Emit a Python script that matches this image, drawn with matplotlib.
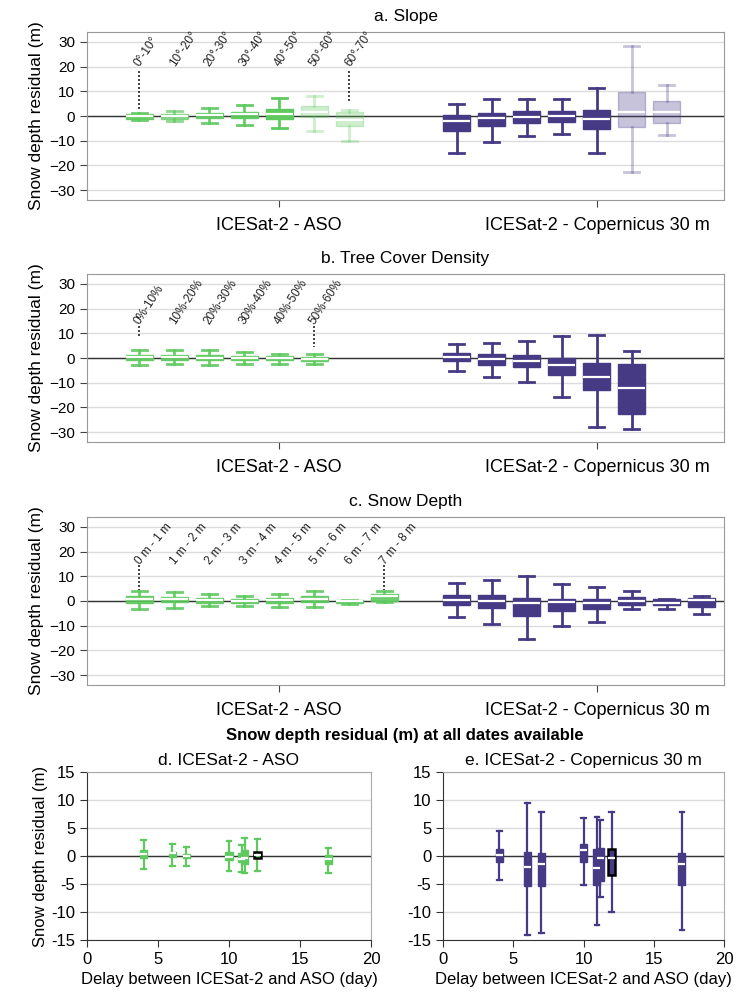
import numpy as np
import matplotlib
matplotlib.use("Agg")
import matplotlib.pyplot as plt

plt.rcParams['font.family'] = ['Liberation Sans', 'DejaVu Sans']

GREEN = '#5ec95e'
PURPLE = '#463a85'

# ── Data: a. Slope ────────────────────────────────────────
slope_labels = ['0°-10°', '10°-20°', '20°-30°', '30°-40°', '40°-50°', '50°-60°', '60°-70°']
slope_aso_lo = [-1.7, -2.2, -2.8, -3.5, -4.7, -5.9, -10.0]
slope_aso_q1 = [-1.3, -1.1, -0.8, -0.8, -1.1, -0.3, -4.1]
slope_aso_med = [-0.2, -0.1, 0.4, 0.7, 0.9, 1.6, -1.8]
slope_aso_q3 = [0.9, 0.8, 1.4, 1.8, 3.0, 4.1, 1.6]
slope_aso_hi = [1.1, 2.0, 3.2, 4.5, 7.3, 8.0, 2.6]
slope_cop_lo = [-14.9, -10.4, -8.0, -7.4, -15.1, -22.6, -7.8]
slope_cop_q1 = [-6.1, -4.1, -2.7, -2.4, -5.3, -4.3, -2.8]
slope_cop_med = [-1.9, -0.8, -0.3, -0.1, -1.2, 1.5, 1.8]
slope_cop_q3 = [0.3, 1.4, 1.9, 1.9, 2.4, 9.6, 6.2]
slope_cop_hi = [5.0, 6.8, 7.0, 7.0, 11.4, 28.2, 12.7]
slope_aso_alpha = [0.9, 0.7, 0.9, 0.95, 1.0, 0.3, 0.3]
slope_cop_alpha = [1, 1, 1, 1, 1, 0.3, 0.3]

# ── Data: b. Tree Cover Density ───────────────────────────
tcd_labels = ['0%-10%', '10%-20%', '20%-30%', '30%-40%', '40%-50%', '50%-60%']
tcd_aso_lo = [-2.8, -2.6, -2.8, -2.4, -2.3, -2.4]
tcd_aso_q1 = [-0.9, -0.8, -0.9, -0.9, -0.9, -1.1]
tcd_aso_med = [0.3, 0.3, 0.1, -0.1, -0.1, -0.4]
tcd_aso_q3 = [1.2, 1.1, 1.2, 0.9, 0.7, 0.5]
tcd_aso_hi = [3.4, 3.2, 3.2, 2.3, 1.5, 1.5]
tcd_cop_lo = [-5.3, -7.8, -9.7, -15.8, -27.8, -28.6]
tcd_cop_q1 = [-1.4, -2.7, -3.5, -6.9, -12.9, -22.5]
tcd_cop_med = [0.3, -0.5, -1.1, -2.8, -7.6, -12.2]
tcd_cop_q3 = [1.9, 1.5, 1.2, -0.1, -2.0, -2.4]
tcd_cop_hi = [5.5, 6.1, 6.9, 8.9, 9.3, 2.8]

# ── Data: c. Snow Depth ───────────────────────────────────
sd_labels = ['0 m - 1 m', '1 m - 2 m', '2 m - 3 m', '3 m - 4 m',
             '4 m - 5 m', '5 m - 6 m', '6 m - 7 m', '7 m - 8 m']
sd_aso_lo = [-3.1, -2.8, -2.2, -2.0, -2.3, -2.3, -1.3, -0.4]
sd_aso_q1 = [-0.7, -0.4, -0.7, -0.8, -0.7, -0.5, -0.9, 0.1]
sd_aso_med = [0.8, 0.9, 0.4, 0.1, 0.4, 0.9, -0.1, 2.0]
sd_aso_q3 = [1.9, 1.7, 1.2, 0.9, 1.2, 2.0, 0.5, 2.8]
sd_aso_hi = [3.9, 3.5, 2.7, 2.0, 2.7, 3.9, 0.5, 4.0]
sd_cop_lo = [-6.5, -9.3, -15.5, -10.1, -8.4, -3.4, -3.1, -5.1]
sd_cop_q1 = [-1.7, -3.0, -6.1, -4.1, -3.4, -1.6, -1.8, -2.3]
sd_cop_med = [0.3, 0.0, -0.8, -0.4, -0.8, 0.1, -0.8, 0.4]
sd_cop_q3 = [2.3, 2.3, 1.2, 0.9, 0.7, 1.6, 0.7, 1.2]
sd_cop_hi = [7.1, 8.5, 10.1, 7.0, 5.7, 4.2, 0.8, 1.9]

# ── Data: d/e. by delay (day) ─────────────────────────────
delay_aso = [4, 6, 7, 10, 10.9, 11.1, 12, 17]
dly_aso_lo = [-2.4, -1.7, -1.8, -2.7, -2.9, -3.1, -2.6, -3.0]
dly_aso_q1 = [-0.4, -0.1, -0.4, -0.8, -1.0, -1.4, -0.4, -1.5]
dly_aso_med = [0.4, 0.5, 0.0, -0.1, -0.5, -0.3, 0.2, -0.5]
dly_aso_q3 = [1.0, 0.8, 0.4, 0.7, 0.6, 1.1, 0.7, 0.1]
dly_aso_hi = [2.9, 2.1, 1.6, 2.6, 1.9, 3.2, 3.1, 1.5]
delay_cop = [4, 6, 7, 10, 10.95, 11.2, 12, 17]
dly_cop_lo = [-4.3, -14.1, -13.8, -5.2, -12.3, -7.3, -10.0, -13.2]
dly_cop_q1 = [-1.1, -5.4, -5.4, -1.0, -5.1, -4.5, -3.4, -5.1]
dly_cop_med = [0.2, -1.9, -1.4, 1.0, -2.1, -0.4, -0.4, -1.5]
dly_cop_q3 = [1.3, 0.7, 0.5, 2.2, 1.2, 1.4, 1.2, 0.5]
dly_cop_hi = [4.5, 9.5, 7.9, 6.7, 7.0, 6.5, 7.8, 7.8]
highlight_delay = 12

groups = ['ICESat-2 - ASO', 'ICESat-2 - Copernicus 30 m']


def draw_boxes(ax, pos, lo, q1, med, q3, hi, color, alphas=None,
               width=0.77, capw=0.43, lw=2.0, edges=None):
    stats = [dict(whislo=a, q1=b, med=c, q3=d, whishi=e)
             for a, b, c, d, e in zip(lo, q1, med, q3, hi)]
    art = ax.bxp(stats, positions=pos, widths=width, capwidths=capw,
                 patch_artist=True, showfliers=False, manage_ticks=False,
                 boxprops=dict(facecolor=color, edgecolor=color, linewidth=1),
                 medianprops=dict(color='white', linewidth=1.6),
                 whiskerprops=dict(color=color, linewidth=lw),
                 capprops=dict(color=color, linewidth=lw))
    n = len(stats)
    if alphas is None:
        alphas = [1] * n
    for i in range(n):
        for a in [art['boxes'][i], art['whiskers'][2*i], art['whiskers'][2*i+1],
                  art['caps'][2*i], art['caps'][2*i+1]]:
            a.set_alpha(alphas[i])
        if edges is not None and edges[i]:
            art['boxes'][i].set_edgecolor('black')
            art['boxes'][i].set_linewidth(1.8)
            art['boxes'][i].set_zorder(5)
            art['medians'][i].set_zorder(6)
    return art


def style_top(ax, title):
    ax.set_xlim(0, 18.2)
    ax.set_ylim(-34, 34)
    ax.set_yticks([-30, -20, -10, 0, 10, 20, 30])
    ax.yaxis.grid(True, color='#dcdcdc', linewidth=1)
    ax.set_axisbelow(True)
    ax.axhline(0, color='#333333', linewidth=1, zorder=1.5)
    for s in ax.spines.values():
        s.set_color('#999999')
    ax.tick_params(axis='y', labelsize=11, length=5, color='#444444')
    ax.tick_params(axis='x', labelsize=13, length=5, color='#444444', pad=7)
    ax.set_ylabel('Snow depth residual (m)', fontsize=12.5, labelpad=4)
    ax.set_title(title, fontsize=12.5, pad=8)


# layout (slots)
aso_start, cop_start = 1.49, 10.57

fig = plt.figure(figsize=(7.44, 9.97), dpi=100)
W, H = 744, 997

top_panels = [
    ('a. Slope', slope_labels, 32, 200,
     (slope_aso_lo, slope_aso_q1, slope_aso_med, slope_aso_q3, slope_aso_hi), slope_aso_alpha,
     (slope_cop_lo, slope_cop_q1, slope_cop_med, slope_cop_q3, slope_cop_hi), slope_cop_alpha,
     20.5, 18.3, [2.6, 6.0], 56),
    ('b. Tree Cover Density', tcd_labels, 274, 442,
     (tcd_aso_lo, tcd_aso_q1, tcd_aso_med, tcd_aso_q3, tcd_aso_hi), [0.9] * 6,
     (tcd_cop_lo, tcd_cop_q1, tcd_cop_med, tcd_cop_q3, tcd_cop_hi), None,
     14.0, 12.8, [8.5, 4.6], 57),
    ('c. Snow Depth', sd_labels, 517, 685,
     (sd_aso_lo, sd_aso_q1, sd_aso_med, sd_aso_q3, sd_aso_hi), [0.9] * 8,
     (sd_cop_lo, sd_cop_q1, sd_cop_med, sd_cop_q3, sd_cop_hi), None,
     15.5, 14.4, [4.5, 4.5], 50),
]

for (title, labels, top, bot, aso, aso_a, cop, cop_a, ylab, ylead, yend, rot) in top_panels:
    ax = fig.add_axes([87 / W, 1 - bot / H, 637 / W, (bot - top) / H])
    n = len(labels)
    pos_aso = aso_start + np.arange(n)
    pos_cop = cop_start + np.arange(n)
    draw_boxes(ax, pos_aso, *aso, GREEN, aso_a)
    draw_boxes(ax, pos_cop, *cop, PURPLE, cop_a)
    style_top(ax, title)
    ax.set_xticks([aso_start + 4, cop_start + 4])
    ax.set_xticklabels(groups)
    for x, lab in zip(pos_aso, labels):
        ax.text(x - 0.05, ylab, lab, rotation=rot, rotation_mode='anchor',
                ha='left', va='center', fontsize=8.5, color='#222222')
    for x, ye in zip([pos_aso[0], pos_aso[-1]], yend):
        ax.plot([x, x], [ylead, ye], color='#222222', linestyle=(0, (1.2, 1.2)),
                linewidth=1.2)

fig.text(405 / W, 1 - 735 / H, 'Snow depth residual (m) at all dates available',
         ha='center', va='center', fontsize=12, fontweight='bold')

bottom_panels = [
    (87, 371, 'd. ICESat-2 - ASO', delay_aso,
     (dly_aso_lo, dly_aso_q1, dly_aso_med, dly_aso_q3, dly_aso_hi), GREEN, True),
    (443, 724, 'e. ICESat-2 - Copernicus 30 m', delay_cop,
     (dly_cop_lo, dly_cop_q1, dly_cop_med, dly_cop_q3, dly_cop_hi), PURPLE, False),
]

for (left, right, title, xs, vals, color, show_ylabel) in bottom_panels:
    ax = fig.add_axes([left / W, 1 - 940 / H, (right - left) / W, 168 / H])
    edges = [x == highlight_delay for x in xs]
    draw_boxes(ax, xs, *vals, color, width=0.5, capw=0.33, lw=1.6, edges=edges)
    ax.set_xlim(0, 20)
    ax.set_ylim(-15, 15)
    ax.set_xticks([0, 5, 10, 15, 20])
    yt = [-15, -10, -5, 0, 5, 10, 15]
    ax.set_yticks(yt)
    ax.set_yticklabels([str(v) for v in yt])
    ax.yaxis.grid(True, color='#dcdcdc', linewidth=1)
    ax.set_axisbelow(True)
    ax.axhline(0, color='#333333', linewidth=1, zorder=1.5)
    for s in ['top', 'right']:
        ax.spines[s].set_color('#aaaaaa')
    for s in ['left', 'bottom']:
        ax.spines[s].set_color('#333333')
    ax.tick_params(labelsize=12, length=5, color='#333333')
    ax.set_xlabel('Delay between ICESat-2 and ASO (day)', fontsize=12, labelpad=4)
    if show_ylabel:
        ax.set_ylabel('Snow depth residual (m)', fontsize=12, labelpad=2)
    ax.set_title(title, fontsize=12.5, pad=5)

plt.savefig('out.png', dpi=100)
